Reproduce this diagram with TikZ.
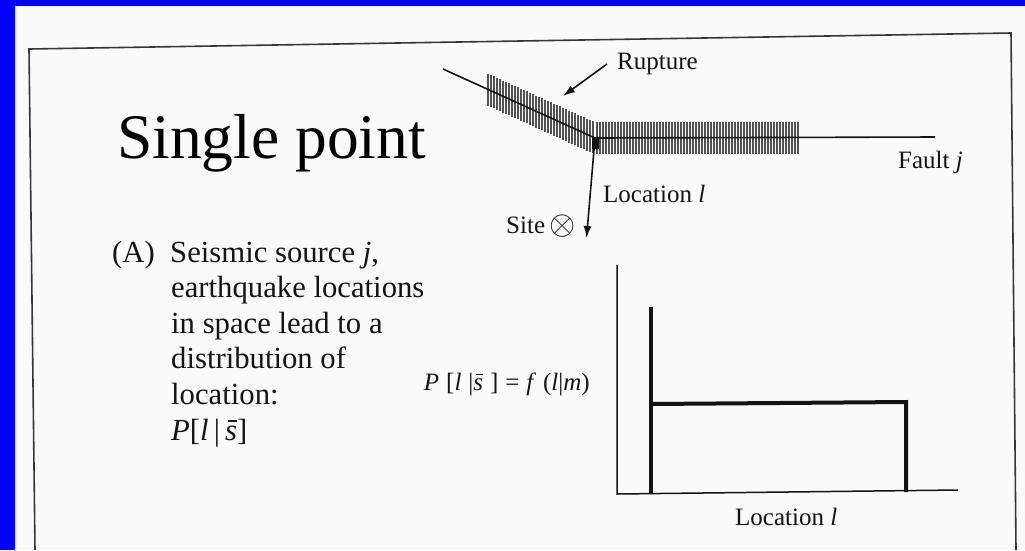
\documentclass[tikz,border=0pt]{standalone}
\usepackage{graphicx}
\usepackage{fontspec}
\setmainfont{Liberation Serif}
\usetikzlibrary{arrows.meta}
\definecolor{bgblue}{RGB}{0,0,255}
\definecolor{paper}{RGB}{250,250,250}
\definecolor{ink}{RGB}{20,20,20}
\newcommand{\sbar}{{\setbox0\hbox{\textit{s}}\rlap{\hbox to \wd0{\hss\kern0.12em\rule[0.6em]{0.75\wd0}{0.05em}\hss}}\box0}}
\tikzset{
  boxline/.style={draw=ink!85, line width=1.6pt},
  faultln/.style={draw=ink, line width=1.6pt},
  hatchln/.style={draw=black!68, line width=1.2pt},
  arrowln/.style={draw=ink, line width=1.6pt, -{Latex[length=12pt,width=8pt]}},
  axisln/.style={draw=ink, line width=1.5pt},
  curveln/.style={draw=ink, line width=4pt},
  lbl/.style={anchor=base west, inner sep=0pt, text=ink, font=\fontsize{25}{28}\selectfont},
  body/.style={anchor=base west, inner sep=0pt, text=ink, font=\fontsize{30.7}{34}\selectfont},
}
\begin{document}
\begin{tikzpicture}[x=1pt,y=-1pt]
\useasboundingbox (0,0) rectangle (1025,550);
\fill[bgblue] (0,0) rectangle (1025,550);
\fill[paper] (15,6) rectangle (1025,550);
% frame of the scanned figure
\coordinate (bl) at (35,550);
\coordinate (tl) at (29,49);
\coordinate (tr) at (1011,33);
\coordinate (br) at (1016,550);
\draw[boxline] (bl) -- (tl) -- (tr) -- (br);

% title
\node[anchor=base west, inner sep=0pt, text=black, font=\fontsize{63.5}{70}\selectfont] (title) at (117,158) {Single point};

% fault and rupture hatching
\foreach \x in {597,600,...,798} \draw[hatchln] (\x,121.5) -- (\x,153.5);
\foreach \x in {488,491,...,594} {
  \pgfmathsetmacro\yc{69.3+(\x-443)*0.4545}
  \draw[hatchln] (\x,\yc-16) -- (\x,\yc+16);
}
\coordinate (fstart) at (443,69);
\coordinate (kink) at (595,138);
\coordinate (fend) at (935,137);
\draw[faultln] (fstart) -- (kink) -- (fend);
\fill[ink] (592,137) rectangle (599,149);

\node[lbl] (rupture) at (617,69) {Rupture};
\coordinate (rtail) at (607,64);
\coordinate (rtip) at (563,96);
\draw[arrowln] (rtail) -- (rtip);

\node[lbl] (fault) at (898,168) {Fault \textit{j}};
\node[lbl] (loc) at (603,202) {Location \textit{l}};
\node[lbl] (site) at (506,233) {Site\,\raisebox{-1pt}{\scalebox{1.35}{$\otimes$}}};
\coordinate (sitept) at (586.5,238);
\draw[arrowln] (kink) -- (sitept);

% left text
\node[body] (tA) at (112,262) {(A)};
\node[body] (t1) at (170,262) {Seismic source \textit{j},};
\node[body] (t2) at (171,297.5) {earthquake locations};
\node[body] (t3) at (171,333) {in space lead to a};
\node[body] (t4) at (171,368.5) {distribution of};
\node[body] (t5) at (171,404) {location:};
\node[body] (t6) at (171,440) {\textit{P}[\textit{l}\,|\,\sbar]};

% graph
\coordinate (ytop) at (617,265);
\coordinate (orig) at (617,494);
\coordinate (xend) at (958,490);
\draw[axisln] (ytop) -- (orig) -- (xend);
\coordinate (spiketop) at (651,307);
\coordinate (spikebot) at (651,494);
\coordinate (platl) at (651,404);
\coordinate (platr) at (906,402);
\coordinate (platb) at (906,492);
\draw[curveln] (spiketop) -- (spikebot);
\draw[curveln, line join=miter] (platl) -- (platr) -- (platb);
\node[anchor=base east, inner sep=0pt, text=ink, font=\fontsize{25}{28}\selectfont] (formula) at (590,390)
  {\textit{P}\;[\textit{l}\;|\sbar\;]\;=\;\textit{f}\;(\textit{l}|\textit{m})};
\node[lbl] (xlab) at (735,525) {Location \textit{l}};
\end{tikzpicture}
\end{document}
